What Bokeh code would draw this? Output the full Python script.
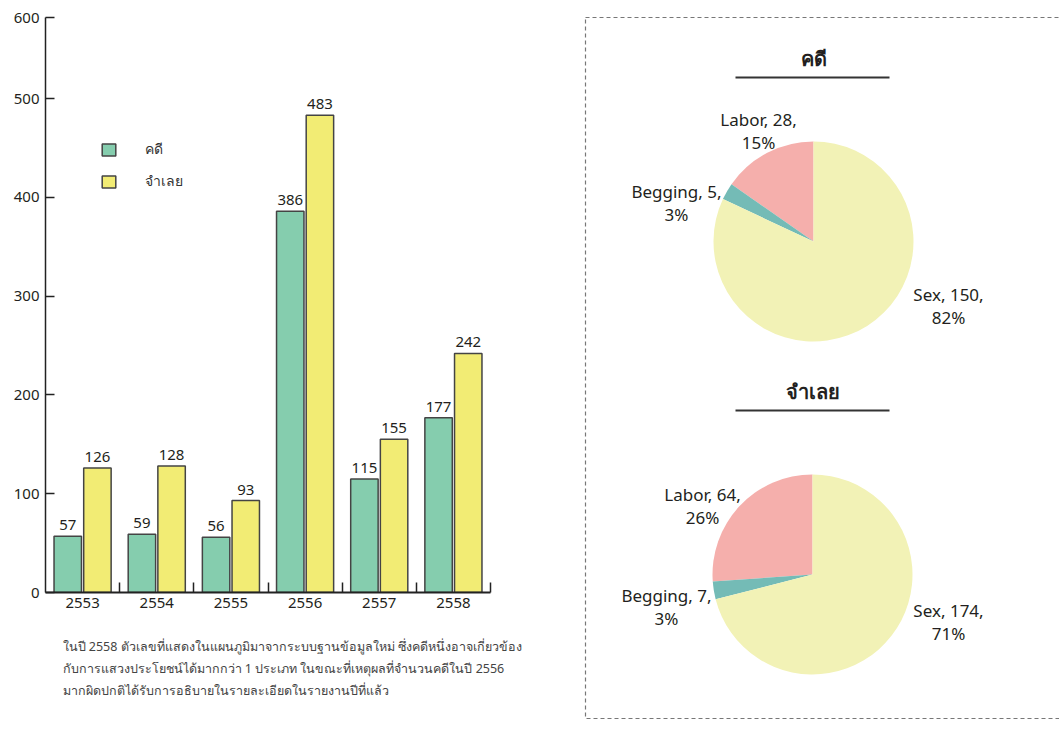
import math
from bokeh.plotting import figure
from bokeh.layouts import row, column
from bokeh.models import (Range1d, FixedTicker, Legend, LegendItem)
from bokeh.core.properties import value
from bokeh.embed import file_html
from bokeh.resources import INLINE

# ---------------- data ----------------
years = ["2553", "2554", "2555", "2556", "2557", "2558"]
cases = [57, 59, 56, 386, 115, 177]          # คดี
defendants = [126, 128, 93, 483, 155, 242]   # จำเลย
series_names = ["คดี", "จำเลย"]
y_ticks = [0, 100, 200, 300, 400, 500]
y_top_label = "600"

pie_categories = ["Labor", "Begging", "Sex"]
pie_cases = [28, 5, 150]
pie_defendants = [64, 7, 174]
pie_titles = ["คดี", "จำเลย"]

note_lines = [
    "ในปี 2558 ตัวเลขที่แสดงในแผนภูมิมาจากระบบฐานข้อมูลใหม่ ซึ่งคดีหนึ่งอาจเกี่ยวข้อง",
    "กับการแสวงประโยชน์ได้มากกว่า 1 ประเภท ในขณะที่เหตุผลที่จำนวนคดีในปี 2556",
    "มากผิดปกติได้รับการอธิบายในรายละเอียดในรายงานปีที่แล้ว",
]

# ---------------- styles ----------------
FONT = "Noto Sans"
TXT = "#231f20"
GREEN = "#85cdae"
YELLOW = "#f2ec74"
PIE_COLORS = ["#f5afac", "#74bbb6", "#f2f2b6"]
Y_AXIS_TOP = 582   # the drawn axis stops a little short of 600, where its top label sits


def blank(fig):
    fig.axis.visible = False
    fig.grid.visible = False
    fig.outline_line_color = None
    fig.background_fill_color = "white"
    fig.border_fill_color = "white"
    try:
        fig.frame_align = False
    except Exception:
        pass


# ---------------- bar chart ----------------
p1 = figure(width=578, height=620, output_backend="svg", toolbar_location=None,
            x_range=Range1d(0, 6), y_range=Range1d(0, Y_AXIS_TOP),
            min_border_left=45, min_border_right=88, min_border_top=17, min_border_bottom=28)
p1.outline_line_color = None
p1.grid.visible = False
p1.background_fill_color = "white"
p1.border_fill_color = "white"
try:
    p1.frame_align = False
except Exception:
    pass

n = len(years)
off = 0.2
bw = 0.37
xg = [i + 0.5 - off for i in range(n)]
xy = [i + 0.5 + off for i in range(n)]
rg = p1.vbar(x=xg, top=cases, width=bw, fill_color=GREEN, line_color="#444444", line_width=1.5)
ry = p1.vbar(x=xy, top=defendants, width=bw, fill_color=YELLOW, line_color="#444444", line_width=1.5)

p1.text(x=xg, y=cases, text=[str(v) for v in cases], text_align="center", text_baseline="bottom",
        y_offset=-6, text_font=value(FONT), text_font_size="15px", text_color=TXT)
p1.text(x=xy, y=defendants, text=[str(v) for v in defendants], text_align="center", text_baseline="bottom",
        y_offset=-6, text_font=value(FONT), text_font_size="15px", text_color=TXT)

xa = p1.xaxis[0]
xa.ticker = FixedTicker(ticks=[i + 0.5 for i in range(n)], minor_ticks=[i + 1 for i in range(n)])
xa.major_label_overrides = {i + 0.5: years[i] for i in range(n)}
xa.major_tick_in = 0
xa.major_tick_out = 0
xa.minor_tick_in = 10
xa.minor_tick_out = 0
xa.minor_tick_line_color = "#222222"
xa.minor_tick_line_width = 1.5
xa.axis_line_color = "#222222"
xa.axis_line_width = 2
xa.major_label_text_font = FONT
xa.major_label_text_font_size = "15px"
xa.major_label_text_color = TXT
xa.major_label_standoff = 5

ya = p1.yaxis[0]
ya.ticker = FixedTicker(ticks=y_ticks + [Y_AXIS_TOP], minor_ticks=[])
ya.major_label_overrides = {Y_AXIS_TOP: y_top_label}
ya.major_tick_in = 9
ya.major_tick_out = 0
ya.major_tick_line_color = "#222222"
ya.major_tick_line_width = 1.5
ya.axis_line_color = "#222222"
ya.axis_line_width = 1.5
ya.major_label_text_font = FONT
ya.major_label_text_font_size = "15px"
ya.major_label_text_color = TXT
ya.major_label_standoff = 6

legend = Legend(items=[LegendItem(label=series_names[0], renderers=[rg]),
                       LegendItem(label=series_names[1], renderers=[ry])],
                location=(55, 400), glyph_width=17, glyph_height=15, label_standoff=28,
                spacing=10, padding=0, margin=0, border_line_color=None,
                background_fill_alpha=0, label_text_font=FONT, label_text_font_size="14px",
                label_text_color="#333333", label_height=20)
p1.add_layout(legend)

# ---------------- note below the bar chart ----------------
p3 = figure(width=578, height=110, output_backend="svg", toolbar_location=None,
            x_range=Range1d(0, 578), y_range=Range1d(0, 110), min_border=0)
blank(p3)
note_x = 62
note_y0 = 84
note_step = 22
p3.text(x=[note_x] * len(note_lines), y=[note_y0 - i * note_step for i in range(len(note_lines))],
        text=note_lines, text_align="left", text_baseline="middle",
        text_font=value(FONT), text_font_size="12.5px", text_color="#444444")

# ---------------- pies ----------------
W2, H2 = 481, 730
p2 = figure(width=W2, height=H2, output_backend="svg", toolbar_location=None,
            x_range=Range1d(0, W2), y_range=Range1d(0, H2), min_border=0)
blank(p2)

# dashed frame (extends past right edge)
p2.quad(left=7, right=520, bottom=12, top=713, fill_color=None, line_color="#777777",
        line_width=1.2, line_dash="4 3")

pie_centers = [(235, 489), (234, 156)]
pie_radius = 100
title_dy = 183
underline_dy = 164
label_offsets = [
    [(-55, 111), (-137, 39), (135, -64)],
    [(-110, 69), (-146, -32), (136, -47)],
]

for k, vals in enumerate([pie_cases, pie_defendants]):
    cx, cy = pie_centers[k]
    total = sum(vals)
    starts, ends = [], []
    a = math.pi / 2
    for v in vals:
        starts.append(a)
        a += 2 * math.pi * v / total
        ends.append(a)
    p2.wedge(x=cx, y=cy, radius=pie_radius, start_angle=starts, end_angle=ends,
             fill_color=PIE_COLORS, line_color=None)
    labels = [f"{c}, {v},\n{round(100 * v / total)}%" for c, v in zip(pie_categories, vals)]
    lx = [cx + dx for dx, dy in label_offsets[k]]
    ly = [cy + dy for dx, dy in label_offsets[k]]
    p2.text(x=lx, y=ly, text=labels, text_align="center", text_baseline="middle",
            text_font=value(FONT), text_font_size="17px", text_color=TXT, text_line_height=1.0)
    p2.text(x=[cx], y=[cy + title_dy], text=[pie_titles[k]], text_align="center",
            text_baseline="middle", text_font=value(FONT), text_font_size="20px",
            text_font_style="bold", text_color=TXT)
    p2.segment(x0=[157], x1=[311], y0=[cy + underline_dy], y1=[cy + underline_dy],
               line_color="#333333", line_width=2)

layout = row(column(p1, p3, spacing=0), p2, spacing=0)
open("out.html", "w").write(file_html(layout, INLINE))
